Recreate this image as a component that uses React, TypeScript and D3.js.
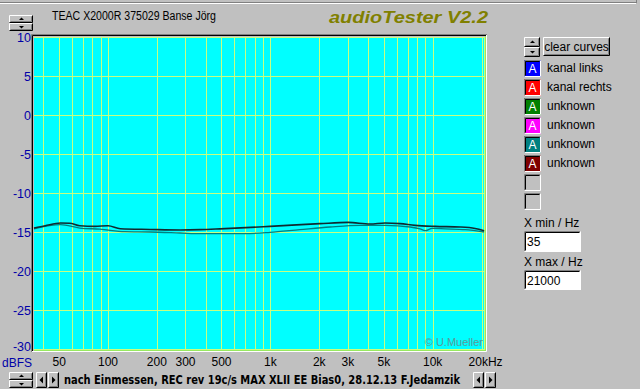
import { useMemo } from "react";
import * as d3 from "d3";

const W = 640;
const H = 389;
const PLOT = { left: 34, right: 485, top: 37, bottom: 349 }; // zone cyan du graphique

// axes
const FREQ_MIN = 35;
const FREQ_MAX = 21000;
const DB_MIN = -30;
const DB_MAX = 10;
const DB_TICKS = [10, 5, 0, -5, -10, -15, -20, -25, -30];
const FREQ_TICKS = [50, 100, 200, 300, 500, 1000, 2000, 3000, 5000, 10000, 20000];
const FREQ_LABELS = ["50", "100", "200", "300", "500", "1k", "2k", "3k", "5k", "10k", "20kHz"];
const GRID_FREQS = [
  40, 50, 60, 70, 80, 90, 100, 200, 300, 400, 500, 600, 700, 800, 900,
  1000, 2000, 3000, 4000, 5000, 6000, 7000, 8000, 9000, 10000, 20000,
];

// courbes
const LEFT_FREQ = [35, 41, 51, 58, 67, 83, 100, 119, 181, 278, 369, 490, 995, 2020, 3010, 4110, 5090, 6300, 7790, 10350, 14750, 18250, 20750];
const LEFT_DB = [-14.5, -14.2, -13.85, -13.87, -14.2, -14.28, -14.2, -14.58, -14.67, -14.74, -14.7, -14.6, -14.28, -13.93, -13.77, -13.97, -13.84, -13.93, -14.15, -14.28, -14.36, -14.54, -14.83];
const RIGHT_FREQ = [35, 51, 67, 89, 127, 181, 278, 369, 698, 995, 1520, 2330, 3570, 5090, 7260, 8360, 8980, 9920, 11920, 15840, 20750];
const RIGHT_DB = [-14.6, -14.06, -14.49, -14.64, -14.96, -15.0, -15.13, -15.22, -15.22, -15.05, -14.7, -14.36, -14.15, -14.15, -14.36, -14.6, -14.83, -14.54, -14.6, -14.7, -15.0];

// légende
const LEGEND_NAMES = ["kanal links", "kanal rechts", "unknown", "unknown", "unknown", "unknown", "", ""];
const LEGEND_COLORS = ["#0000ff", "#ff0000", "#008000", "#ff00ff", "#008080", "#800000", "", ""];

const GREY = "#c0c0c0";
const GRID = "#c8ff80";
const AXIS_BLUE = "#0000a8";
const SANS = "'Liberation Sans', Arial, sans-serif";

// bouton Windows 95 en relief
const Raised = ({ x, y, w, h }: { x: number; y: number; w: number; h: number }) => (
  <g>
    <rect x={x} y={y} width={w} height={h} fill={GREY} />
    <path d={`M${x + 0.5},${y + h - 0.5}V${y + 0.5}H${x + w - 0.5}`} stroke="#fff" fill="none" />
    <path d={`M${x + 0.5},${y + h - 0.5}H${x + w - 0.5}V${y + 0.5}`} stroke="#000" fill="none" />
    <path d={`M${x + 1.5},${y + h - 1.5}H${x + w - 1.5}V${y + 1.5}`} stroke="#808080" fill="none" />
  </g>
);

const Sunken = ({ x, y, w, h, fill }: { x: number; y: number; w: number; h: number; fill: string }) => (
  <g>
    <rect x={x} y={y} width={w} height={h} fill={fill} />
    <path d={`M${x + 0.5},${y + h - 0.5}V${y + 0.5}H${x + w - 0.5}`} stroke="#808080" fill="none" />
    <path d={`M${x + 1.5},${y + h - 1.5}V${y + 1.5}H${x + w - 1.5}`} stroke="#000" fill="none" />
    <path d={`M${x + 0.5},${y + h - 0.5}H${x + w - 0.5}V${y + 0.5}`} stroke="#fff" fill="none" />
  </g>
);

const Spin = ({ x, y, w, h }: { x: number; y: number; w: number; h: number }) => {
  const hh = h / 2;
  const cx = x + w / 2;
  return (
    <g>
      <Raised x={x} y={y} w={w} h={hh} />
      <Raised x={x} y={y + hh} w={w} h={hh} />
      <path d={`M${cx - 2},${y + hh / 2 + 1}h5l-2.5,-2.5z`} fill="#000" />
      <path d={`M${cx - 2},${y + hh + hh / 2 - 1}h5l-2.5,2.5z`} fill="#000" />
    </g>
  );
};

const ArrowBtn = ({ x, y, dir }: { x: number; y: number; dir: "l" | "r" }) => (
  <g>
    <Raised x={x} y={y} w={11} h={16} />
    {dir === "l" ? (
      <path d={`M${x + 7},${y + 4.5}v7l-3.5,-3.5z`} fill="#000" />
    ) : (
      <path d={`M${x + 4},${y + 4.5}v7l3.5,-3.5z`} fill="#000" />
    )}
  </g>
);

export default function App() {
  const xScale = useMemo(
    () => d3.scaleLog().domain([FREQ_MIN, FREQ_MAX]).range([PLOT.left, PLOT.right]),
    []
  );
  const yScale = useMemo(
    () => d3.scaleLinear().domain([DB_MIN, DB_MAX]).range([PLOT.bottom, PLOT.top]),
    []
  );

  const line = d3
    .line<[number, number]>()
    .x((d) => xScale(d[0]))
    .y((d) => yScale(d[1]))
    .curve(d3.curveMonotoneX);

  const leftPath = line(LEFT_FREQ.map((f, i) => [f, LEFT_DB[i]] as [number, number]));
  const rightPath = line(RIGHT_FREQ.map((f, i) => [f, RIGHT_DB[i]] as [number, number]));

  return (
    <svg
      width={W}
      height={H}
      style={{ position: "fixed", left: 0, top: 0, display: "block" }}
      fontFamily={SANS}
    >
      <rect x={0} y={0} width={W} height={H} fill={GREY} />
      {/* bord de fenêtre */}
      <line x1={0} x2={636} y1={2.5} y2={2.5} stroke="#808080" />
      <line x1={0} x2={636} y1={3.5} y2={3.5} stroke="#fff" />
      <line x1={636.5} x2={636.5} y1={0} y2={3} stroke="#808080" />

      {/* en-tête */}
      <Spin x={9} y={15} w={24} h={16} />
      <text x={52} y={20} fontSize={12} fill="#000" textLength={164} lengthAdjust="spacingAndGlyphs">
        TEAC X2000R 375029 Banse Jörg
      </text>
      <text
        x={329}
        y={23}
        fontSize={16.5}
        fontWeight="bold"
        fontStyle="italic"
        fill="#808000"
        textLength={159}
        lengthAdjust="spacingAndGlyphs"
      >
        audioTester V2.2
      </text>

      {/* cadre du graphique */}
      <rect x={PLOT.left} y={PLOT.top} width={PLOT.right - PLOT.left} height={PLOT.bottom - PLOT.top} fill="#00ffff" />
      {GRID_FREQS.map((f) => (
        <line key={f} x1={Math.round(xScale(f)) + 0.5} x2={Math.round(xScale(f)) + 0.5} y1={PLOT.top} y2={PLOT.bottom} stroke={GRID} />
      ))}
      {DB_TICKS.map((d) => (
        <line key={d} x1={PLOT.left} x2={PLOT.right} y1={Math.round(yScale(d)) + 0.5} y2={Math.round(yScale(d)) + 0.5} stroke={GRID} />
      ))}
      <line x1={PLOT.right - 0.5} x2={PLOT.right - 0.5} y1={PLOT.top} y2={PLOT.bottom} stroke={GRID} />
      <line x1={PLOT.right + 0.5} x2={PLOT.right + 0.5} y1={PLOT.top - 1} y2={PLOT.bottom + 2} stroke="#98e860" />
      <line x1={PLOT.left} x2={PLOT.right + 1} y1={PLOT.bottom + 1.5} y2={PLOT.bottom + 1.5} stroke="#98e860" />
      <path d={`M${PLOT.left - 1.5},${PLOT.bottom + 2}V${PLOT.top - 1.5}H${PLOT.right + 1}`} stroke="#000" fill="none" />
      <path d={`M${PLOT.left - 2.5},${PLOT.bottom + 3}V${PLOT.top - 2.5}H${PLOT.right + 2}`} stroke="#808080" fill="none" />
      <path d={`M${PLOT.left - 2},${PLOT.bottom + 2.5}H${PLOT.right + 1.5}V${PLOT.top - 2}`} stroke="#fff" fill="none" />

      {/* courbes */}
      <path d={rightPath ?? ""} fill="none" stroke="#008080" strokeWidth={1.3} />
      <path d={leftPath ?? ""} fill="none" stroke="#102a30" strokeWidth={1.6} />

      <text x={PLOT.right - 2} y={PLOT.bottom - 3} fontSize={11} fill="#5a9a9a" textAnchor="end">
        © U.Mueller
      </text>

      {/* axe Y */}
      {DB_TICKS.map((d) => (
        <text
          key={d}
          x={31}
          y={d === DB_MIN ? yScale(d) + 1.5 : yScale(d) + 5}
          fontSize={12.5}
          fill={AXIS_BLUE}
          textAnchor="end"
        >
          {d}
        </text>
      ))}
      <text x={2} y={367} fontSize={12} fill={AXIS_BLUE}>
        dBFS
      </text>

      {/* axe X */}
      {FREQ_TICKS.map((f, i) => (
        <text
          key={f}
          x={i === FREQ_TICKS.length - 1 ? xScale(f) - 13 : xScale(f)}
          y={366}
          fontSize={12}
          fill="#000"
          textAnchor={i === FREQ_TICKS.length - 1 ? "start" : "middle"}
        >
          {FREQ_LABELS[i]}
        </text>
      ))}

      {/* barre du bas */}
      <Spin x={9} y={372} w={24} h={16} />
      <ArrowBtn x={36} y={372} dir="l" />
      <ArrowBtn x={48} y={372} dir="r" />
      <text
        x={64}
        y={384}
        fontSize={12}
        fontWeight="bold"
        fontFamily="'DejaVu Sans', Verdana, sans-serif"
        fill="#000"
        textLength={396}
        lengthAdjust="spacingAndGlyphs"
      >
        nach Einmessen, REC rev 19c/s MAX XLII EE Bias0, 28.12.13 F.Jedamzik
      </text>
      <ArrowBtn x={473} y={372} dir="l" />
      <ArrowBtn x={485} y={372} dir="r" />

      {/* panneau de droite */}
      <Spin x={524} y={37} w={16} h={20} />
      <Raised x={543} y={37} w={67} h={19} />
      <text x={576.5} y={51} fontSize={12} textAnchor="middle" fill="#000">
        clear curves
      </text>
      {LEGEND_NAMES.map((name, i) => {
        const y = 60 + i * 19;
        const color = LEGEND_COLORS[i];
        return (
          <g key={i}>
            <Sunken x={524} y={y} w={17} h={17} fill={color || GREY} />
            {color && (
              <text x={532.5} y={y + 13} fontSize={12} fill="#fff" textAnchor="middle">
                A
              </text>
            )}
            {name && (
              <text x={547} y={y + 12} fontSize={12} fill="#000">
                {name}
              </text>
            )}
          </g>
        );
      })}

      <text x={524} y={227} fontSize={12} fill="#000">
        X min / Hz
      </text>
      <Sunken x={524} y={231} w={57} h={21} fill="#fff" />
      <text x={527} y={246} fontSize={12} fill="#000">
        {FREQ_MIN}
      </text>
      <text x={524} y={266} fontSize={12} fill="#000">
        X max / Hz
      </text>
      <Sunken x={524} y={270} w={57} h={20} fill="#fff" />
      <text x={527} y={285} fontSize={12} fill="#000">
        {FREQ_MAX}
      </text>
    </svg>
  );
}
